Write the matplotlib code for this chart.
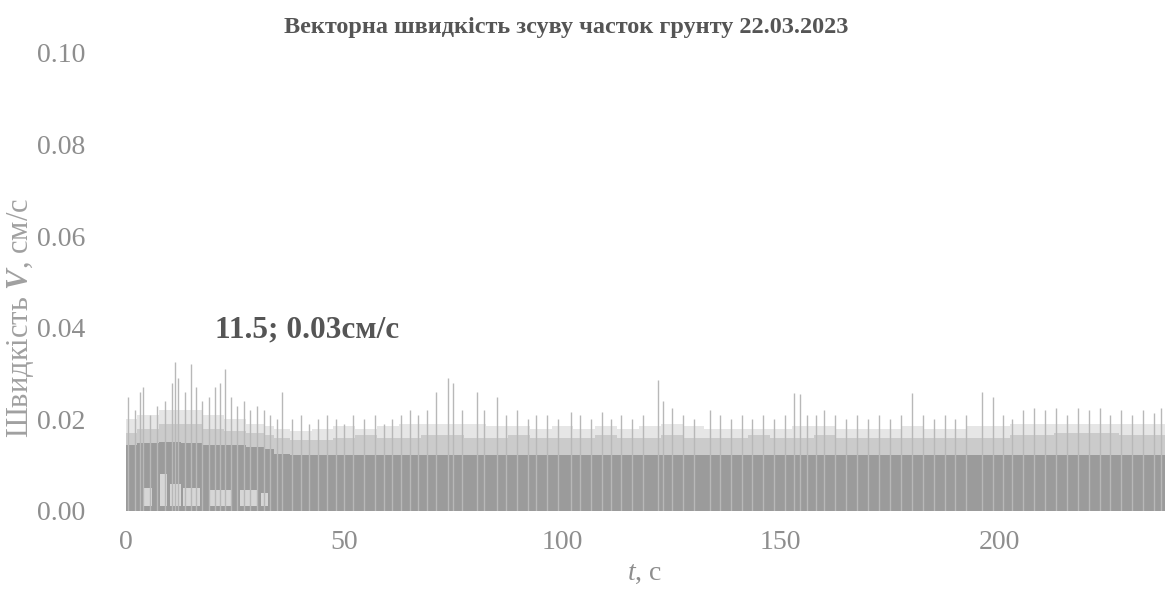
import matplotlib
matplotlib.use("Agg")
import matplotlib.pyplot as plt
import numpy as np

plt.rcParams['font.family'] = ['Liberation Serif', 'DejaVu Serif']
plt.rcParams['mathtext.fontset'] = 'custom'
plt.rcParams['mathtext.it'] = 'Liberation Serif:italic'
plt.rcParams['mathtext.bf'] = 'Liberation Serif:bold:italic'
plt.rcParams['mathtext.rm'] = 'Liberation Serif'

title = "Векторна швидкість зсуву часток грунту 22.03.2023"
ylabel = r"Швидкість $\mathbf{V}$, см/с"
xlabel = r"$\mathit{t}$, с"
annot = "11.5; 0.03см/с"

x_ticks = [0, 50, 100, 150, 200]
y_ticks = [0.00, 0.02, 0.04, 0.06, 0.08, 0.10]

# envelope of the dense signal (read every 5 s)
env_t = [0, 5, 10, 15, 20, 25, 30, 33, 35, 40, 45, 50, 55, 60, 65, 70, 75, 80, 85,
         90, 95, 100, 105, 110, 115, 120, 125, 130, 135, 140, 145, 150, 155, 160,
         165, 170, 175, 180, 185, 190, 195, 200, 205, 210, 215, 220, 225, 230, 235, 238]
haze_top = [0.020, 0.021, 0.022, 0.022, 0.021, 0.020, 0.019, 0.0185, 0.018, 0.0175, 0.018,
            0.0185, 0.018, 0.0185, 0.019, 0.019, 0.019, 0.019, 0.0185, 0.0185, 0.018,
            0.0185, 0.018, 0.0185, 0.018, 0.0185, 0.019, 0.0185, 0.018, 0.018, 0.018,
            0.018, 0.0185, 0.0185, 0.018, 0.018, 0.018, 0.0185, 0.018, 0.018, 0.0185,
            0.0185, 0.019, 0.019, 0.019, 0.019, 0.019, 0.019, 0.019, 0.019]
light_top = [0.017, 0.018, 0.019, 0.019, 0.018, 0.0175, 0.017, 0.0165, 0.016, 0.0155, 0.0155,
             0.016, 0.0165, 0.016, 0.016, 0.0165, 0.0165, 0.016, 0.016, 0.0165, 0.016,
             0.016, 0.016, 0.0165, 0.016, 0.016, 0.0165, 0.016, 0.016, 0.016, 0.0165,
             0.016, 0.016, 0.0165, 0.016, 0.016, 0.016, 0.016, 0.016, 0.016, 0.016,
             0.016, 0.0165, 0.0165, 0.017, 0.017, 0.017, 0.0165, 0.0165, 0.0165]
dark_top = [0.0145, 0.0148, 0.015, 0.0148, 0.0145, 0.0145, 0.014, 0.0135, 0.0125, 0.0122,
            0.0122, 0.0122, 0.0122, 0.0122, 0.0122, 0.0122, 0.0122, 0.0122, 0.0122, 0.0122,
            0.0122, 0.0122, 0.0122, 0.0122, 0.0122, 0.0122, 0.0122, 0.0122, 0.0122, 0.0122,
            0.0122, 0.0122, 0.0122, 0.0122, 0.0122, 0.0122, 0.0122, 0.0122, 0.0122, 0.0122,
            0.0122, 0.0122, 0.0122, 0.0122, 0.0122, 0.0122, 0.0122, 0.0122, 0.0122, 0.0122]

# pale gaps inside the dark band during the first 33 s: start, end, low, high
gap_t0 = [4.0, 7.8, 10.0, 13.0, 19.0, 26.0, 31.0]
gap_t1 = [6.0, 9.5, 12.5, 17.0, 24.0, 30.0, 32.5]
gap_lo = [0.001, 0.001, 0.001, 0.001, 0.001, 0.001, 0.001]
gap_hi = [0.005, 0.008, 0.006, 0.005, 0.0045, 0.0045, 0.004]

# individual peaks (time, velocity)
peak_t = [0.5, 2.0, 3.2, 4.0, 5.5, 7.0, 9.0, 10.5, 11.2, 12.0, 13.5, 15.0, 16.0, 17.5,
          19.0, 20.5, 21.5, 22.7, 24.0, 25.5, 27.0, 28.5, 30.0, 31.5, 33.0, 34.5,
          35.7, 38, 40, 42, 44, 46, 48, 50, 52, 54.5, 57, 59, 61, 63, 65, 67, 69, 71,
          73.8, 75, 77, 80.4, 82, 85, 87, 89.5, 92, 94, 96.5, 99, 102, 104, 106.5, 109,
          111, 113.5, 116, 118.5, 121.8, 123.0, 125, 127.5, 130, 133.8, 136, 138.5, 141,
          143.5, 146, 148.5, 151, 153, 154.3, 156, 158, 160, 162.5, 165, 167.5, 170,
          172.5, 175, 177.5, 180, 182.5, 185, 187.5, 190, 192.5, 196, 198.6, 201, 203,
          205.5, 208, 210.5, 213, 215.5, 218, 220.5, 223, 225.5, 228, 230.5, 233, 235.5, 237]
peak_v = [0.025, 0.022, 0.026, 0.027, 0.021, 0.023, 0.024, 0.028, 0.0325, 0.029, 0.026,
          0.032, 0.027, 0.024, 0.025, 0.027, 0.028, 0.031, 0.025, 0.023, 0.024, 0.022,
          0.023, 0.022, 0.021, 0.020,
          0.026, 0.020, 0.021, 0.019, 0.020, 0.021, 0.020, 0.019, 0.021, 0.020, 0.021,
          0.019, 0.020, 0.021, 0.022, 0.021, 0.022, 0.026, 0.029, 0.028, 0.022, 0.026,
          0.022, 0.025, 0.021, 0.022, 0.020, 0.021, 0.021, 0.020, 0.0216, 0.021, 0.020,
          0.0216, 0.020, 0.021, 0.020, 0.021, 0.0286, 0.024, 0.0225, 0.021, 0.020, 0.022,
          0.021, 0.020, 0.021, 0.020, 0.021, 0.020, 0.021, 0.0257, 0.0255, 0.021, 0.021,
          0.022, 0.021, 0.020, 0.021, 0.020, 0.021, 0.020, 0.021, 0.0257, 0.021, 0.020,
          0.021, 0.020, 0.021, 0.026, 0.025, 0.021, 0.020, 0.022, 0.0225, 0.022, 0.0225,
          0.021, 0.0225, 0.022, 0.0225, 0.021, 0.022, 0.021, 0.022, 0.0215, 0.0225]

W, H = 1165, 589
fig = plt.figure(figsize=(W / 100, H / 100), dpi=100)
ax = fig.add_axes([126 / W, 1 - 511 / H, (W - 126) / W, (511 - 53) / H])

ax.fill_between(env_t, 0, haze_top, color='#e6e6e6', lw=0, step='mid')
ax.fill_between(env_t, 0, light_top, color='#cbcbcb', lw=0, step='mid')
ax.vlines(peak_t, 0, peak_v, colors='#b8b8b8', lw=1.0)
ax.fill_between(env_t, 0, dark_top, color='#9b9b9b', lw=0, step='mid')
for a, b, lo, hi in zip(gap_t0, gap_t1, gap_lo, gap_hi):
    ax.fill_between([a, b], lo, hi, color='#d6d6d6', lw=0)

ax.set_xlim(0, 238)
ax.set_ylim(0, 0.10)
ax.set_xticks(x_ticks)
ax.set_yticks(y_ticks)
ax.set_yticklabels([f"{v:.2f}" for v in y_ticks])
ax.tick_params(length=0, labelsize=20, labelcolor='#8e8e8e')
ax.tick_params(axis='y', pad=29)
ax.tick_params(axis='x', pad=14)
for s in ax.spines.values():
    s.set_visible(False)

fig.text(566 / W, 1 - 28 / H, title, ha='center', va='center', fontsize=17.5,
         fontweight='bold', color='#555555')
fig.text(215 / W, 1 - 330 / H, annot, ha='left', va='center', fontsize=22.5,
         fontweight='bold', color='#555555')
fig.text(645 / W, 1 - 574 / H, xlabel, ha='center', va='center', fontsize=20,
         color='#8e8e8e')
fig.text(21 / W, 1 - 318 / H, ylabel, ha='center', va='center', fontsize=22,
         rotation=90, color='#a0a0a0')

fig.savefig("out.png", dpi=100)
